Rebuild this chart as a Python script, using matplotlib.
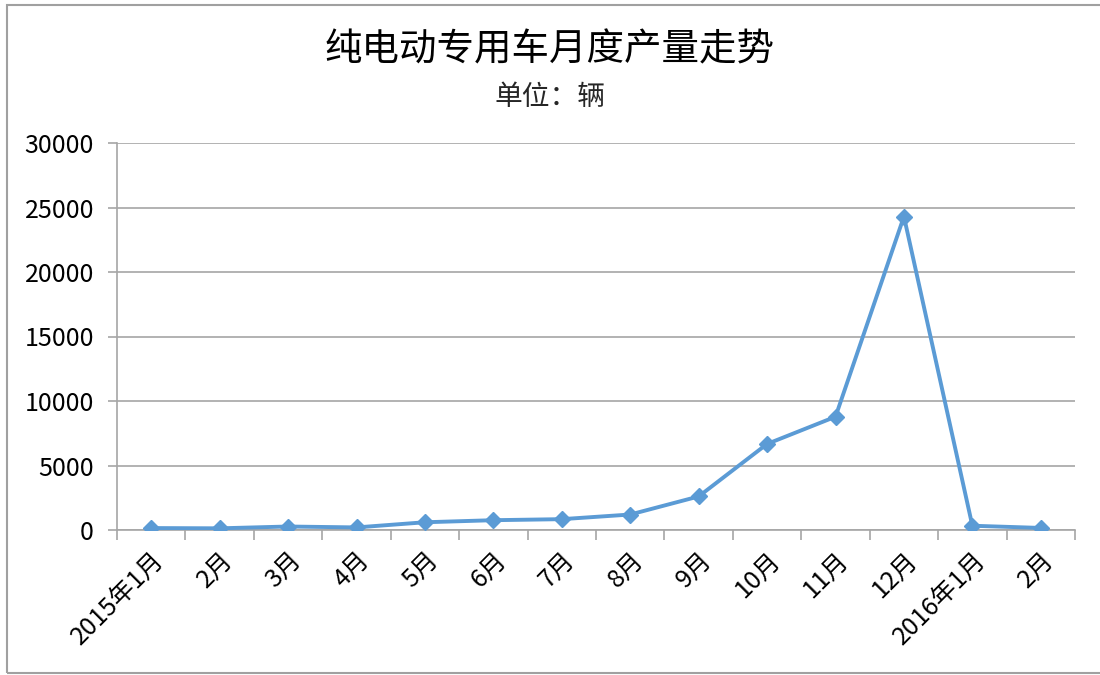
import matplotlib
matplotlib.use('Agg')
import matplotlib.pyplot as plt
from matplotlib.patches import Rectangle

plt.rcParams['font.family'] = ['Noto Sans CJK SC', 'DejaVu Sans']

# ── Monthly output of pure-electric special vehicles (units) ──
MONTHS = ['2015年1月', '2月', '3月', '4月', '5月', '6月', '7月', '8月',
          '9月', '10月', '11月', '12月', '2016年1月', '2月']
OUTPUT = [150, 130, 270, 200, 600, 760, 840, 1200,
          2600, 6670, 8780, 24300, 330, 160]
YTICKS = [0, 5000, 10000, 15000, 20000, 25000, 30000]

LINE_COLOR = '#5B9BD5'
GRID_COLOR = '#A6A6A6'

fig = plt.figure(figsize=(11, 6.75), dpi=100)
ax = fig.add_axes([117 / 1100, 1 - 530 / 675, (1075 - 117) / 1100, (530 - 143) / 675])

x = list(range(len(MONTHS)))
ax.plot(x, OUTPUT, color=LINE_COLOR, linewidth=2.8, marker='D',
        markersize=8.5, markerfacecolor=LINE_COLOR, markeredgecolor=LINE_COLOR,
        zorder=3)

ax.set_xlim(-0.5, len(MONTHS) - 0.5)
ax.set_ylim(0, 30000)
ax.set_yticks(YTICKS)
ax.set_yticklabels([str(v) for v in YTICKS], fontsize=18)
ax.grid(axis='y', color=GRID_COLOR, linewidth=1.2)
ax.set_axisbelow(True)

# category labels at centres, tick marks on the boundaries
ax.set_xticks(x)
ax.set_xticklabels(MONTHS, fontsize=18, rotation=45, ha='right',
                   rotation_mode='anchor')
ax.tick_params(axis='x', which='major', length=0, pad=12)
ax.set_xticks([i - 0.5 for i in range(len(MONTHS) + 1)], minor=True)
ax.tick_params(axis='x', which='minor', length=7, width=1.2, color=GRID_COLOR)
ax.tick_params(axis='y', length=6.5, width=1.2, color=GRID_COLOR, pad=10)

for side in ['top', 'right']:
    ax.spines[side].set_visible(False)
for side in ['left', 'bottom']:
    ax.spines[side].set_color(GRID_COLOR)
    ax.spines[side].set_linewidth(1.2)

fig.text(0.5, 1 - 50 / 675, '纯电动专用车月度产量走势', ha='center', va='center',
         fontsize=27)
fig.text(0.5, 1 - 97 / 675, '单位：辆', ha='center', va='center',
         fontsize=20, color='#262626')

# outer chart frame
fig.patches.append(Rectangle((7 / 1100, 1 - 673 / 675), 1.1, 668 / 675,
                             transform=fig.transFigure, fill=False,
                             edgecolor='#A0A0A0', linewidth=1.5))

fig.savefig('out.png', dpi=100)
